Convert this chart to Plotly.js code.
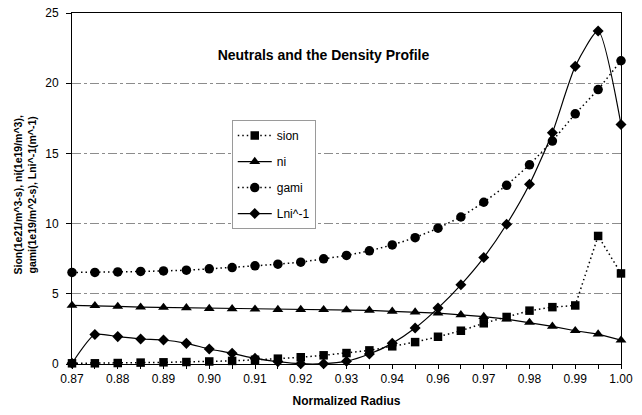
<!DOCTYPE html>
<html>
<head>
<meta charset="utf-8">
<script src="https://cdn.plot.ly/plotly-3.0.1.min.js"></script>
<style>html,body{margin:0;padding:0;background:#fff;}#chart{width:642px;height:415px;}</style>
</head>
<body>
<div id="chart"></div>
<script>
// Normalized radius categories (category axis, evenly spaced)
const radius = [0.870,0.875,0.880,0.885,0.890,0.895,0.900,0.905,0.910,0.915,0.920,0.925,0.930,0.935,0.940,0.950,0.960,0.965,0.970,0.975,0.980,0.985,0.990,0.995,1.000];
// Tick labels shown on every other category
const xTickLabels = ["0.87","0.88","0.89","0.90","0.91","0.92","0.93","0.94","0.96","0.97","0.98","0.99","1.00"];
const yTickVals = [0,5,10,15,20,25];

const sion = [0.05,0.05,0.07,0.10,0.12,0.14,0.18,0.22,0.30,0.38,0.48,0.62,0.78,0.97,1.26,1.56,1.94,2.37,2.90,3.35,3.80,4.05,4.17,9.12,6.45];
const ni   = [4.17,4.15,4.10,4.05,4.03,4.00,3.95,3.93,3.90,3.88,3.88,3.87,3.85,3.82,3.75,3.70,3.62,3.50,3.38,3.20,2.96,2.68,2.37,2.13,1.70];
const gami = [6.52,6.52,6.56,6.59,6.63,6.68,6.78,6.87,6.99,7.11,7.25,7.49,7.73,8.06,8.48,9.00,9.67,10.47,11.52,12.73,14.19,15.88,17.82,19.55,21.60];
const lni  = [0.05,2.10,1.95,1.78,1.71,1.47,1.07,0.76,0.40,0.17,0.02,0.02,0.20,0.71,1.47,2.56,3.98,5.64,7.58,9.95,12.80,16.47,21.20,23.72,17.06];

const cats = radius.map(r => r.toFixed(3));
const tickText = cats.map((c, i) => (i % 2 === 0 ? xTickLabels[i / 2] : ""));

const FONT = "Liberation Sans, Arial, sans-serif";
const DOTS = "1.5px,3px";

const traces = [
  {name: "sion", x: cats, y: sion, type: "scatter", mode: "lines+markers", legendgroup: "a",
   line: {color: "#000", width: 1.5, dash: DOTS}, marker: {symbol: "square", size: 8.5, color: "#000"}, cliponaxis: false},
  {name: "ni", x: cats, y: ni, type: "scatter", mode: "lines+markers", legendgroup: "b",
   line: {color: "#000", width: 1.2}, marker: {symbol: "triangle-up", size: 9.5, color: "#000"}, cliponaxis: false},
  {name: "gami", x: cats, y: gami, type: "scatter", mode: "lines+markers", legendgroup: "c",
   line: {color: "#000", width: 1.5, dash: DOTS}, marker: {symbol: "circle", size: 9.5, color: "#000"}, cliponaxis: false},
  {name: "Lni^-1", x: cats, y: lni, type: "scatter", mode: "lines+markers", legendgroup: "d",
   line: {color: "#000", width: 1.2, shape: "spline", smoothing: 0.6}, marker: {symbol: "diamond", size: 8.5, color: "#000"}, cliponaxis: false}
];

const layout = {
  width: 642, height: 415,
  margin: {l: 72, r: 21, t: 13, b: 51},
  paper_bgcolor: "#fff", plot_bgcolor: "#fff",
  font: {family: FONT, size: 12, color: "#000"},
  showlegend: true,
  title: {text: "<b>Neutrals and the Density Profile</b>", font: {family: FONT, size: 14, color: "#000"},
          xref: "paper", x: 0.458, xanchor: "center", yref: "container", y: 0.867, yanchor: "middle"},
  xaxis: {
    type: "category", range: [0, cats.length - 1], autorange: false,
    tickmode: "array", tickvals: cats, ticktext: tickText,
    ticks: "outside", ticklen: 4, tickcolor: "#000",
    showline: true, linecolor: "#000", linewidth: 1, mirror: true,
    showgrid: false, zeroline: false,
    tickfont: {family: FONT, size: 12, color: "#000"},
    title: {text: "<b>Normalized Radius</b>", font: {family: FONT, size: 12, color: "#000"}, standoff: 11}
  },
  yaxis: {
    range: [0, 25], autorange: false,
    tickmode: "array", tickvals: yTickVals,
    ticks: "outside", ticklen: 5, tickcolor: "#000", ticklabelstandoff: 5,
    showline: true, linecolor: "#000", linewidth: 1, mirror: true,
    showgrid: true, gridcolor: "#8c8c8c", gridwidth: 1, griddash: "dashdot",
    zeroline: false,
    tickfont: {family: FONT, size: 12, color: "#000"}
  },
  annotations: [{
    text: "<b>Sion(1e21/m^3-s), ni(1e19/m^3),</b><br><b>gami(1e19/m^2-s), Lni^-1(m^-1)</b>",
    font: {family: FONT, size: 10.5, color: "#000"},
    textangle: -90, showarrow: false,
    xref: "paper", x: -0.085, xanchor: "center",
    yref: "paper", y: 0.481, yanchor: "middle"
  }],
  legend: {
    x: 0.291, y: 0.695, xanchor: "left", yanchor: "top",
    bgcolor: "#fff", bordercolor: "#9a9a9a", borderwidth: 1,
    font: {family: FONT, size: 12, color: "#000"},
    tracegroupgap: 7, itemwidth: 34
  }
};

Plotly.newPlot("chart", traces, layout, {displayModeBar: false, staticPlot: true});
</script>
</body>
</html>
